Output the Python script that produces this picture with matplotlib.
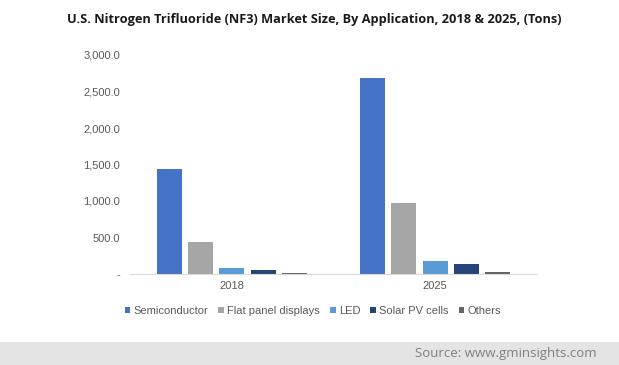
import matplotlib.pyplot as plt
import numpy as np
from matplotlib.patches import Rectangle

years = ["2018", "2025"]
segments = ["Semiconductor", "Flat panel displays", "LED", "Solar PV cells", "Others"]
semiconductor = [1438, 2689]
flat_panel = [442, 973]
led = [82, 183]
solar = [60, 137]
others = [18, 32]
colors = ["#4472C4", "#A5A5A5", "#5B9BD5", "#264478", "#636363"]


def fmt(v, pos):
    if v == 0:
        return "-"
    return "{:,.1f}".format(v)


def main():
    fig = plt.figure(figsize=(6.19, 3.65), dpi=100)
    ax = fig.add_axes([130 / 619, 1 - 274 / 365, 407 / 619, 219 / 365])

    series = [semiconductor, flat_panel, led, solar, others]
    x = np.arange(len(years))
    step = 0.154
    width = 0.123
    for i, vals in enumerate(series):
        ax.bar(x + (i - 2) * step, vals, width, color=colors[i], label=segments[i])

    ax.set_xlim(-0.5, 1.5)
    ax.set_ylim(0, 3000)
    ax.set_yticks(np.arange(0, 3001, 500))
    ax.yaxis.set_major_formatter(plt.FuncFormatter(fmt))
    ax.set_xticks(x)
    ax.set_xticklabels(years)
    for s in ["top", "right", "left"]:
        ax.spines[s].set_visible(False)
    ax.spines["bottom"].set_color("#D9D9D9")
    ax.tick_params(axis="both", length=0, labelsize=8, labelcolor="#595959", pad=7)
    ax.tick_params(axis="x", pad=5)
    for lab in ax.get_xticklabels() + ax.get_yticklabels():
        lab.set_family("Liberation Sans")

    fig.text(0.507, 1 - 20 / 365, "U.S. Nitrogen Trifluoride (NF3) Market Size, By Application, 2018 & 2025, (Tons)",
             ha="center", va="center", fontsize=9.2, fontweight="bold", family="Open Sans", color="#1a1a1a")

    leg = fig.legend(loc="center", bbox_to_anchor=(313 / 619, 1 - 311 / 365), ncol=5, frameon=False,
                     handlelength=0.5, handleheight=0.5, handletextpad=0.3, columnspacing=0.9,
                     prop={"family": "Liberation Sans", "size": 8})
    for t in leg.get_texts():
        t.set_color("#595959")

    fig.patches.append(Rectangle((0, 0), 1, 23 / 365, transform=fig.transFigure,
                                 facecolor="#E4E4E4", edgecolor="none", zorder=0))
    fig.text(597 / 619, 1 - 353 / 365, "Source: www.gminsights.com", ha="right", va="center",
             fontsize=9.5, family="Open Sans", color="#7F7F7F")

    fig.savefig("out.png", dpi=100)


if __name__ == '__main__':
    main()
